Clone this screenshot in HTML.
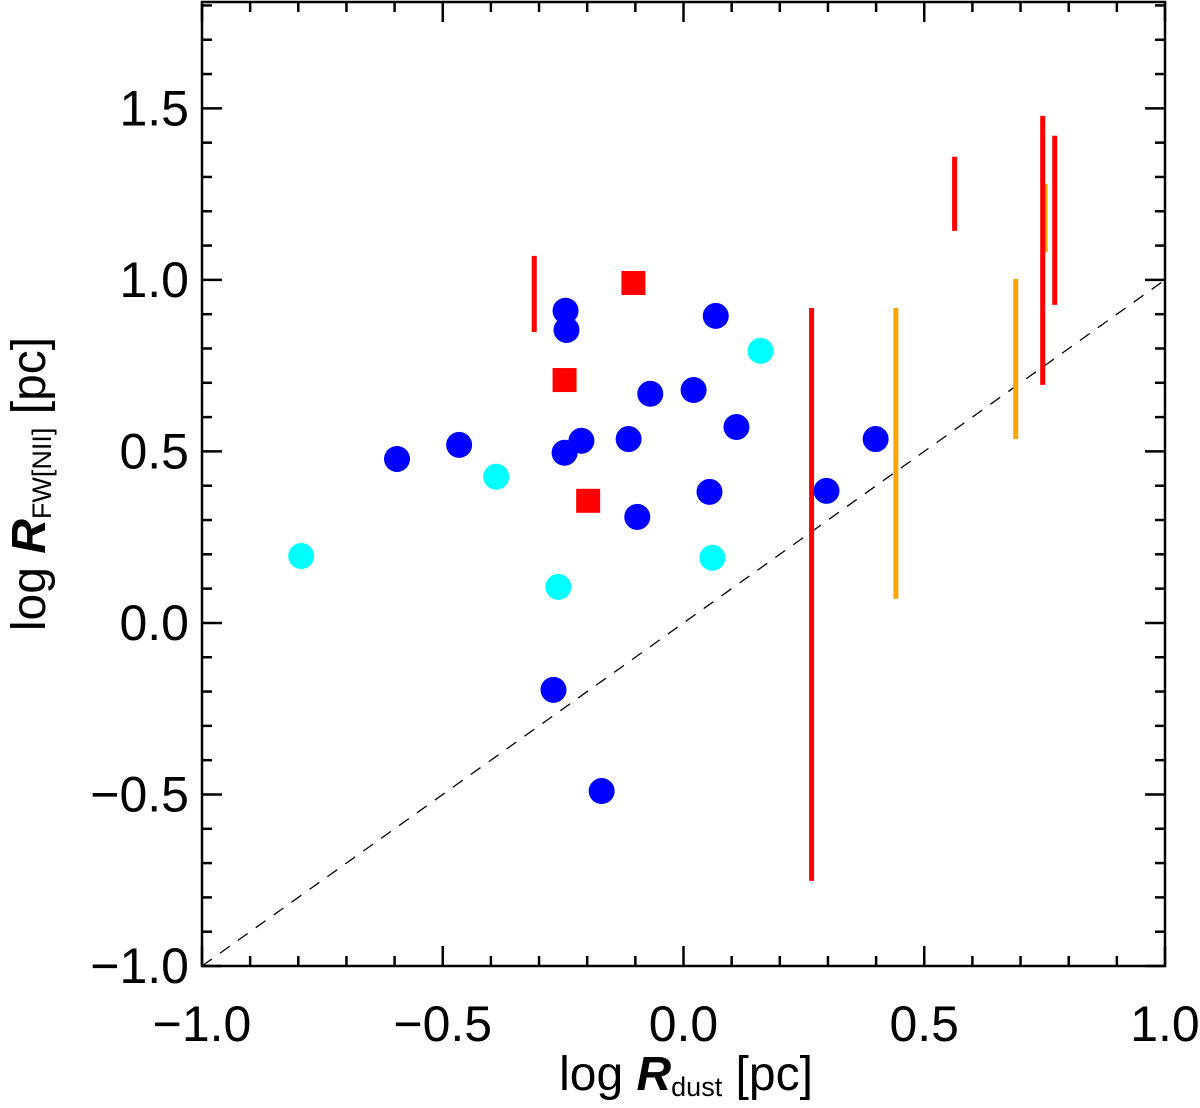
<!DOCTYPE html>
<html><head><meta charset="utf-8"><style>
body{margin:0;background:#fff}
svg text{font-family:"Liberation Sans",sans-serif;fill:#000}
</style></head><body>
<svg id="chart" width="1200" height="1103" viewBox="0 0 1200 1103" xmlns="http://www.w3.org/2000/svg">
<g id="marks"></g>
<g id="axes"></g>
</svg>
<script>
const blueX=[-0.595,-0.466,-0.245,-0.243,-0.247,-0.212,-0.114,-0.069,0.021,0.067,0.110,0.054,-0.096,-0.270,-0.170,0.297,0.399];
const blueY=[0.478,0.519,0.910,0.854,0.496,0.531,0.536,0.668,0.679,0.895,0.571,0.382,0.309,-0.195,-0.490,0.385,0.536];
const cyanX=[-0.794,-0.389,0.160,-0.260,0.060];
const cyanY=[0.195,0.426,0.793,0.105,0.190];
const sqX=[-0.104,-0.247,-0.198];
const sqY=[0.991,0.708,0.356];
const redBarX=[-0.310,0.266,0.563,0.746,0.771];
const redBarLo=[0.848,-0.752,1.143,0.694,0.927];
const redBarHi=[1.070,0.918,1.359,1.478,1.420];
const orangeBarX=[0.441,0.690,0.751];
const orangeBarLo=[0.070,0.536,1.080];
const orangeBarHi=[0.918,1.003,1.280];
const xTicks=[-1.0,-0.5,0.0,0.5,1.0];
const xTickLabels=["\u22121.0","\u22120.5","0.0","0.5","1.0"];
const yTicks=[-1.0,-0.5,0.0,0.5,1.0,1.5];
const yTickLabels=["\u22121.0","\u22120.5","0.0","0.5","1.0","1.5"];

const L=202,R=1165,T=2,B=966,xmin=-1,xmax=1,ymin=-1,ymax=1.81;
const sx=v=>L+(v-xmin)/(xmax-xmin)*(R-L);
const sy=v=>B-(v-ymin)/(ymax-ymin)*(B-T);
const NS="http://www.w3.org/2000/svg";
const marks=document.getElementById('marks'),axes=document.getElementById('axes');
function mk(tag,attrs,parent){const e=document.createElementNS(NS,tag);for(const k in attrs)e.setAttribute(k,attrs[k]);parent.appendChild(e);return e;}

let d=mk('line',{x1:sx(-1),y1:sy(-1),x2:sx(1),y2:sy(1),stroke:'#000','stroke-width':1.3,'stroke-dasharray':'12,10'},marks);


orangeBarX.forEach((x,i)=>{const e=mk('line',{x1:sx(x),x2:sx(x),y1:sy(orangeBarLo[i]),y2:sy(orangeBarHi[i]),stroke:'#ffa500','stroke-width':5},marks);

});
redBarX.forEach((x,i)=>{const e=mk('line',{x1:sx(x),x2:sx(x),y1:sy(redBarLo[i]),y2:sy(redBarHi[i]),stroke:'#ff0000','stroke-width':5},marks);

});
blueX.forEach((x,i)=>{const e=mk('circle',{cx:sx(x),cy:sy(blueY[i]),r:13,fill:'#0000ff'},marks);

});
cyanX.forEach((x,i)=>{const e=mk('circle',{cx:sx(x),cy:sy(cyanY[i]),r:13,fill:'#00ffff'},marks);

});
sqX.forEach((x,i)=>{const e=mk('rect',{x:sx(x)-12,y:sy(sqY[i])-12,width:24,height:24,fill:'#ff0000'},marks);

});

let f=mk('rect',{x:L,y:T,width:R-L,height:B-T,fill:'none',stroke:'#000','stroke-width':2.5},axes);


for(let k=0;k<=20;k++){const v=-1+k*0.1,x=sx(v),len=(k%5==0)?20:10;
 mk('line',{x1:x,x2:x,y1:B,y2:B-len,stroke:'#000','stroke-width':2.5},axes);
 mk('line',{x1:x,x2:x,y1:T,y2:T+len,stroke:'#000','stroke-width':2.5},axes);}
for(let k=0;k<=28;k++){const v=-1+k*0.1,y=sy(v),len=(k%5==0)?20:10;
 mk('line',{x1:L,x2:L+len,y1:y,y2:y,stroke:'#000','stroke-width':2.5},axes);
 mk('line',{x1:R,x2:R-len,y1:y,y2:y,stroke:'#000','stroke-width':2.5},axes);}
xTicks.forEach((v,i)=>{const t=mk('text',{x:sx(v),y:1041,'font-size':50,'text-anchor':'middle'},axes);t.textContent=xTickLabels[i];

});
yTicks.forEach((v,i)=>{const t=mk('text',{x:189,y:sy(v)+17,'font-size':50,'text-anchor':'end'},axes);t.textContent=yTickLabels[i];

});
</script>
<svg style="position:absolute;left:0;top:0" width="1200" height="1103">
<text x="686" y="1090" font-size="48" text-anchor="middle" font-family="Liberation Sans, sans-serif">log <tspan font-weight="bold" font-style="italic">R</tspan><tspan font-size="27" dy="6">dust</tspan><tspan dy="-6"> [pc]</tspan></text>
<text transform="translate(45,484) rotate(-90)" font-size="48" text-anchor="middle" font-family="Liberation Sans, sans-serif">log <tspan font-weight="bold" font-style="italic">R</tspan><tspan font-size="27" dy="6">FW[NII]</tspan><tspan dy="-6"> [pc]</tspan></text>
</svg>
</body></html>
